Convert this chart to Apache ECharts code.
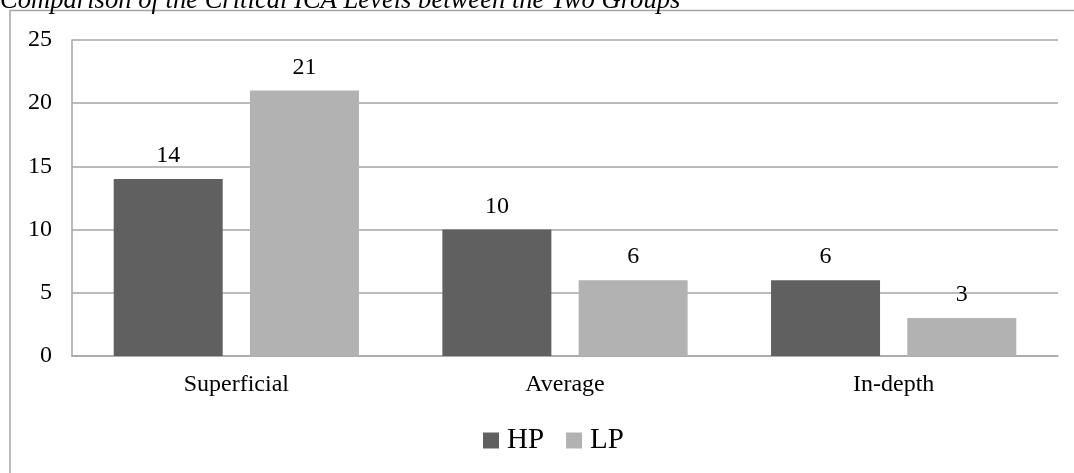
<!DOCTYPE html>
<html>
<head>
<meta charset="utf-8">
<script src="https://cdn.jsdelivr.net/npm/echarts@6/dist/echarts.min.js"></script>
<style>
html,body{margin:0;padding:0;background:#fff;}
#c{width:1074px;height:473px;}
</style>
</head>
<body>
<div id="c"></div>
<script>
const categories = ['Superficial', 'Average', 'In-depth'];
const hpValues = [14, 10, 6];
const lpValues = [21, 6, 3];
const yTicks = { min: 0, max: 25, interval: 5 };
const titleText = 'Comparison of the Critical ICA Levels between the Two Groups';

const FONT = '"Liberation Serif", "Times New Roman", serif';
const chart = echarts.init(document.getElementById('c'), null, { renderer: 'canvas' });
const labelStyle = { show: true, position: 'top', distance: 11, color: '#000', fontFamily: FONT, fontSize: 24 };
chart.setOption({
  animation: false,
  backgroundColor: '#fff',
  graphic: [
    { type: 'rect', shape: { x: 10, y: 10.5, width: 1200, height: 600 }, style: { fill: 'none', stroke: '#a6a6a6', lineWidth: 1.5 }, silent: true },
    { type: 'text', x: 0, y: -13, style: { text: titleText, font: 'italic 26.6px ' + FONT, fill: '#000', verticalAlign: 'top' } }
  ],
  grid: { left: 72, right: 16, top: 40, bottom: 117, containLabel: false },
  legend: {
    data: ['HP', 'LP'],
    bottom: 13,
    left: 478,
    itemWidth: 16, itemHeight: 16, itemGap: 22,
    icon: 'rect',
    textStyle: { fontFamily: FONT, fontSize: 29, color: '#000', padding: [0, 0, 0, 3] }
  },
  xAxis: {
    type: 'category',
    data: categories,
    axisLine: { show: true, lineStyle: { color: '#a6a6a6', width: 1.5 } },
    axisTick: { show: false },
    axisLabel: { color: '#000', fontFamily: FONT, fontSize: 24, margin: 17 }
  },
  yAxis: {
    type: 'value',
    min: yTicks.min, max: yTicks.max, interval: yTicks.interval,
    axisLine: { show: true, lineStyle: { color: '#a6a6a6', width: 1.5 } },
    axisTick: { show: false },
    splitLine: { lineStyle: { color: '#a6a6a6', width: 1.5 } },
    axisLabel: { color: '#000', fontFamily: FONT, fontSize: 24, margin: 20 }
  },
  series: [
    { name: 'HP', type: 'bar', data: hpValues, barWidth: 109, barGap: '25%', itemStyle: { color: '#606060' }, label: labelStyle },
    { name: 'LP', type: 'bar', data: lpValues, barWidth: 109, barGap: '25%', itemStyle: { color: '#b2b2b2' }, label: labelStyle }
  ]
});
</script>
</body>
</html>
